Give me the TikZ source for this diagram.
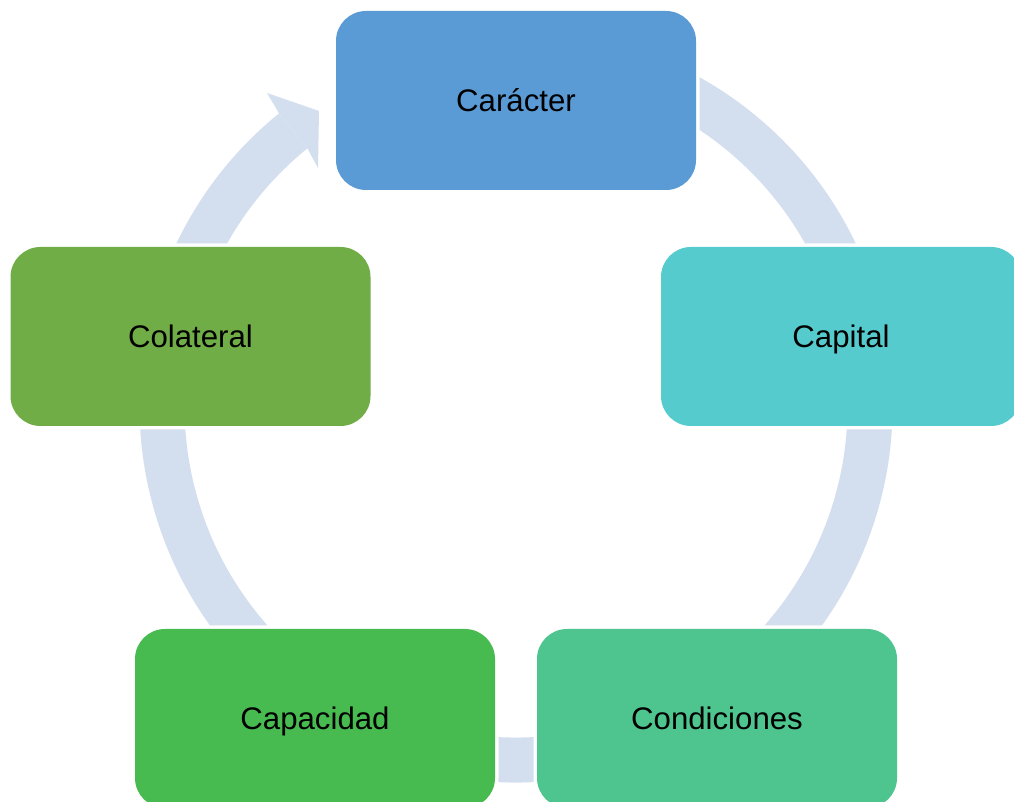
\documentclass[tikz,border=0pt]{standalone}
\usepackage{fontspec}
\setmainfont{Liberation Sans}
\usetikzlibrary{calc}

\definecolor{ringblue}{RGB}{211,222,239}
\definecolor{caracterblue}{RGB}{91,155,213}
\definecolor{capitalteal}{RGB}{85,203,205}
\definecolor{condicionesgreen}{RGB}{78,197,142}
\definecolor{capacidadgreen}{RGB}{72,187,80}
\definecolor{colateralgreen}{RGB}{112,173,71}

\tikzset{
	box/.style={rectangle, rounded corners=22.5pt, minimum width=270pt, minimum height=134.25pt, inner sep=0pt,
		text height=21pt, text depth=4.9pt,
		preaction={draw=white, line width=5.25pt}, font=\fontsize{23.4}{28}\selectfont},
	ring/.style={draw=ringblue, line width=33.75pt}
}

\begin{document}
\begin{tikzpicture}[x=0.75pt,y=0.75pt]
	\useasboundingbox (0,0) rectangle (1014,802);
	\clip (0,0) rectangle (1014,802);
	\coordinate (ctr) at (516,396);

	\begin{scope}
		\draw[ring] ($(ctr)+(100:354)$) arc[start angle=100, end angle=-231, radius=354]; % ring
		\fill[ringblue] ($(ctr)+(129:376.5)$) -- (267,709) -- (319,691) -- (318,634) -- ($(ctr)+(129:331.5)$) -- cycle; % arrow head

		\node[box, fill=caracterblue] (caracter) at (516,701.5) {Carácter};
		\node[box, fill=capitalteal] (capital) at (841,465.5) {Capital};
		\node[box, fill=condicionesgreen] (condiciones) at (717,83.5) {Condiciones};
		\node[box, fill=capacidadgreen] (capacidad) at (315,83.5) {Capacidad};
		\node[box, fill=colateralgreen] (colateral) at (190.5,465.5) {Colateral};
	\end{scope}
\end{tikzpicture}
\end{document}
